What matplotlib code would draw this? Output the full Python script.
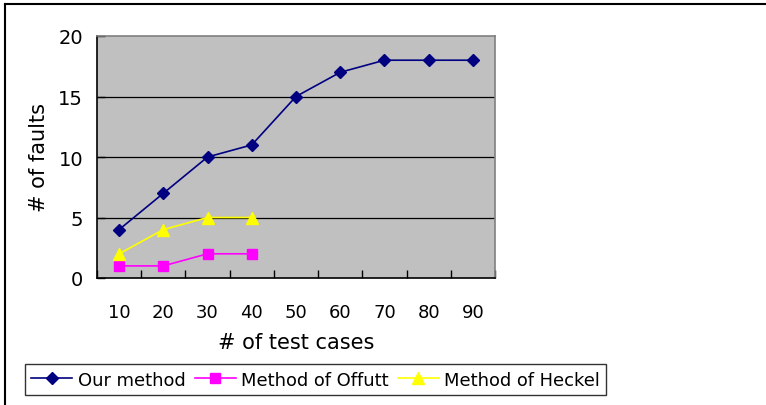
import matplotlib
matplotlib.use('Agg')
import matplotlib.pyplot as plt
from matplotlib.lines import Line2D

plt.rcParams['font.family'] = ['DejaVu Sans']

test_cases = ['10', '20', '30', '40', '50', '60', '70', '80', '90']
our_method = [4, 7, 10, 11, 15, 17, 18, 18, 18]
offutt = [1, 1, 2, 2]
heckel = [2, 4, 5, 5]
y_ticks = [0, 5, 10, 15, 20]

fig = plt.figure(figsize=(7.66, 4.06), dpi=100)
ax = fig.add_axes([97/766, 127/406, 398/766, 242/406])
ax.set_facecolor('#C0C0C0')

x_all = list(range(len(test_cases)))
ax.plot(x_all, our_method, color='#000080', marker='D', markersize=6, linewidth=1.2, label='Our method', zorder=5)
ax.plot(x_all[:len(offutt)], offutt, color='#FF00FF', marker='s', markersize=7, linewidth=1.2, label='Method of Offutt', zorder=4)
ax.plot(x_all[:len(heckel)], heckel, color='#FFFF00', marker='^', markersize=8, linewidth=1.2, label='Method of Heckel', zorder=4)

ax.set_xlim(-0.5, len(test_cases) - 0.5)
ax.set_ylim(0, 20)

#gridlines (top one is the plot border)
for y in y_ticks[1:-1]:
    ax.axhline(y, color='black', linewidth=0.9, zorder=1)

#ticks at category boundaries, labels in the middle
ax.set_xticks([i - 0.5 for i in range(len(test_cases) + 1)])
ax.set_xticklabels([])
ax.set_xticks(x_all, minor=True)
ax.set_xticklabels(test_cases, minor=True)
ax.tick_params(axis='x', which='major', direction='in', length=6, width=1, color='black')
ax.tick_params(axis='x', which='minor', length=0, pad=18, labelsize=13)
ax.set_yticks(y_ticks)
ax.tick_params(axis='y', direction='in', length=6, width=1, pad=10, labelsize=14)

for side in ['top', 'right']:
    ax.spines[side].set_color('#808080')
    ax.spines[side].set_linewidth(1.2)
for side in ['left', 'bottom']:
    ax.spines[side].set_color('black')
    ax.spines[side].set_linewidth(1.2)

ax.set_xlabel('# of test cases', fontsize=15, labelpad=8)
ax.set_ylabel('# of faults', fontsize=15, labelpad=7)

leg = fig.legend(loc='lower left', bbox_to_anchor=(25/766, 10/406), ncol=3, fontsize=12.9,
                 frameon=True, fancybox=False, edgecolor='black', handlelength=2.3,
                 handletextpad=0.3, columnspacing=0.5, borderpad=0.35, borderaxespad=0)
leg.get_frame().set_linewidth(1.0)

#outer chart border (left and top visible)
fig.add_artist(Line2D([5/766, 5/766], [0, 1 - 5/406], color='black', linewidth=1.5))
fig.add_artist(Line2D([5/766, 1], [1 - 5/406, 1 - 5/406], color='black', linewidth=1.5))

plt.savefig('out.png', dpi=100)
